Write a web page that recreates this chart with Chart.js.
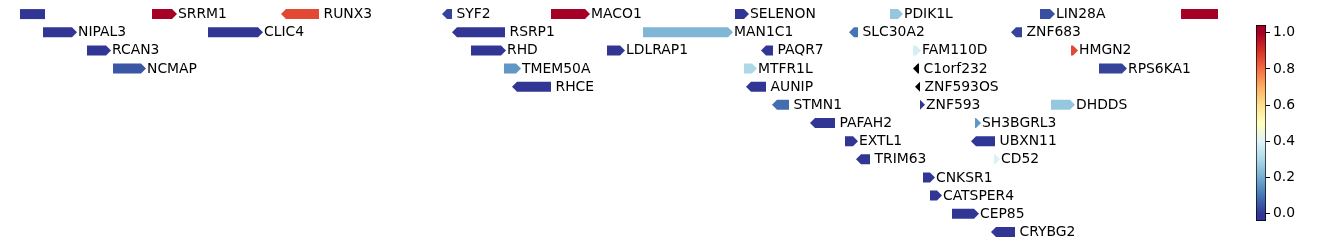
<!DOCTYPE html>
<html>
<head>
<meta charset="utf-8">
<script src="https://cdn.jsdelivr.net/npm/chart.js"></script>
<style>
    html, body { margin: 0; padding: 0; background: #fff; }
    #contenedor { position: relative; width: 1338px; height: 246px; }
    #pistas { position: absolute; left: 0; top: 0; }
    #barra { position: absolute; left: 1240px; top: 0; }
</style>
</head>
<body>
<div id="contenedor">
    <canvas id="pistas" width="1240" height="246"></canvas>
    <canvas id="barra" width="98" height="246"></canvas>
</div>
<script>
// Genes (nombre vacio = gen cortado en el borde, sin etiqueta)
const genes = ['', 'SRRM1', 'RUNX3', 'SYF2', 'MACO1', 'SELENON', 'PDIK1L', 'LIN28A', '',
    'NIPAL3', 'CLIC4', 'RSRP1', 'MAN1C1', 'SLC30A2', 'ZNF683',
    'RCAN3', 'RHD', 'LDLRAP1', 'PAQR7', 'FAM110D', 'HMGN2',
    'NCMAP', 'TMEM50A', 'MTFR1L', 'C1orf232', 'RPS6KA1',
    'RHCE', 'AUNIP', 'ZNF593OS',
    'STMN1', 'ZNF593', 'DHDDS',
    'PAFAH2', 'SH3BGRL3',
    'EXTL1', 'UBXN11',
    'TRIM63', 'CD52',
    'CNKSR1', 'CATSPER4', 'CEP85', 'CRYBG2'];
const inicio = [20, 152, 281, 442, 551, 735, 890, 1040, 1181,
    43, 208, 452, 643, 849, 1011,
    87, 471, 607, 761, 913, 1071,
    113, 504, 744, 913, 1099,
    512, 746, 915,
    772, 920, 1051,
    810, 975,
    845, 971,
    856, 994,
    923, 930, 952, 991];
const fin = [45, 177, 319, 452, 590, 749, 903, 1055, 1218,
    77, 263, 505, 733, 858, 1022,
    111, 506, 625, 773, 921, 1078,
    146, 521, 757, 919, 1127,
    551, 766, 920,
    789, 925, 1075,
    835, 981,
    858, 995,
    870, 1000,
    935, 942, 979, 1015];
// 1 = hebra +, -1 = hebra -, 0 = sin flecha
const hebra = [0, 1, -1, -1, 1, 1, 1, 1, 0,
    1, 1, -1, 1, -1, -1,
    1, 1, 1, -1, 1, 1,
    1, 1, 1, -1, 1,
    -1, -1, -1,
    -1, 1, 1,
    -1, 1,
    1, -1,
    -1, 1,
    1, 1, 1, -1];
const fila = [0, 0, 0, 0, 0, 0, 0, 0, 0,
    1, 1, 1, 1, 1, 1,
    2, 2, 2, 2, 2, 2,
    3, 3, 3, 3, 3,
    4, 4, 4,
    5, 5, 5,
    6, 6,
    7, 7,
    8, 8,
    9, 10, 11, 12];
// null = sin valor (negro)
const valor = [0.0, 1.0, 0.86, 0.02, 1.0, 0.0, 0.26, 0.04, 1.0,
    0.0, 0.0, 0.0, 0.22, 0.10, 0.02,
    0.0, 0.0, 0.0, 0.0, 0.38, 0.86,
    0.05, 0.16, 0.30, null, 0.02,
    0.0, 0.0, null,
    0.09, 0.0, 0.26,
    0.0, 0.16,
    0.0, 0.0,
    0.0, 0.39,
    0.0, 0.0, 0.0, 0.0];
const filas = ['f0', 'f1', 'f2', 'f3', 'f4', 'f5', 'f6', 'f7', 'f8', 'f9', 'f10', 'f11', 'f12'];

// Barra de color
const ticksBarra = [0.0, 0.2, 0.4, 0.6, 0.8, 1.0];
const limiteBarra = [-0.040, 1.043];

// RdYlBu invertido
const paleta = ['#313695', '#4575b4', '#74add1', '#abd9e9', '#e0f3f8', '#ffffbf',
    '#fee090', '#fdae61', '#f46d43', '#d73027', '#a50026'];

const fuente = '"DejaVu Sans", sans-serif';

function hexRgb(h) {
    return [parseInt(h.slice(1, 3), 16), parseInt(h.slice(3, 5), 16), parseInt(h.slice(5, 7), 16)];
}

function colorDe(v) {
    if (v === null) return '#000000';
    const t = Math.min(1, Math.max(0, v)) * (paleta.length - 1);
    const i = Math.min(paleta.length - 2, Math.floor(t));
    const f = t - i;
    const a = hexRgb(paleta[i]), b = hexRgb(paleta[i + 1]);
    const c = a.map((x, k) => Math.round(x + (b[k] - x) * f));
    return 'rgb(' + c.join(',') + ')';
}

// Dibuja cada gen como flecha (pentagono) a partir de la barra calculada por Chart.js
const flechas = {
    id: 'flechas',
    afterDatasetsDraw(chart) {
        const ctx = chart.ctx;
        const meta = chart.getDatasetMeta(0);
        ctx.save();
        meta.data.forEach((bar, i) => {
            const p = bar.getProps(['x', 'y', 'base', 'height'], true);
            const izq = Math.min(p.x, p.base), der = Math.max(p.x, p.base);
            const arriba = p.y - p.height / 2, abajo = p.y + p.height / 2;
            const punta = Math.min(5, der - izq);
            ctx.fillStyle = colorDe(valor[i]);
            ctx.beginPath();
            if (hebra[i] === 1) {
                ctx.moveTo(izq, arriba);
                ctx.lineTo(der - punta, arriba);
                ctx.lineTo(der, p.y);
                ctx.lineTo(der - punta, abajo);
                ctx.lineTo(izq, abajo);
            } else if (hebra[i] === -1) {
                ctx.moveTo(der, arriba);
                ctx.lineTo(izq + punta, arriba);
                ctx.lineTo(izq, p.y);
                ctx.lineTo(izq + punta, abajo);
                ctx.lineTo(der, abajo);
            } else {
                ctx.rect(izq, arriba, der - izq, abajo - arriba);
            }
            ctx.closePath();
            ctx.fill();

            if (genes[i]) {
                ctx.fillStyle = '#000';
                ctx.font = '13.9px ' + fuente;
                ctx.textBaseline = 'middle';
                ctx.textAlign = 'left';
                ctx.fillText(genes[i], der + (hebra[i] === -1 ? 4.5 : 1), p.y + 0.5);
            }
        });
        ctx.restore();
    }
};

function crearPistas() {
    new Chart(document.getElementById('pistas'), {
        type: 'bar',
        data: {
            labels: filas,
            datasets: [{
                data: genes.map((g, i) => ({ x: [inicio[i], fin[i]], y: filas[fila[i]] })),
                backgroundColor: 'rgba(0,0,0,0)',
                borderWidth: 0,
                barThickness: 10
            }]
        },
        options: {
            indexAxis: 'y',
            responsive: false,
            animation: false,
            layout: { padding: { top: 5, bottom: 5, left: 0, right: 0 } },
            plugins: { legend: { display: false }, tooltip: { enabled: false } },
            scales: {
                x: { type: 'linear', min: 0, max: 1240, display: false },
                y: { type: 'category', display: false }
            }
        },
        plugins: [flechas]
    });
}

function crearBarraColor() {
    new Chart(document.getElementById('barra'), {
        type: 'bar',
        data: {
            labels: [''],
            datasets: [{
                data: [limiteBarra],
                backgroundColor(c) {
                    const chart = c.chart;
                    if (!chart.chartArea) return '#fff';
                    const y = chart.scales.y;
                    const g = chart.ctx.createLinearGradient(0, y.getPixelForValue(0), 0, y.getPixelForValue(1));
                    paleta.forEach((col, k) => g.addColorStop(k / (paleta.length - 1), col));
                    return g;
                },
                borderColor: '#000',
                borderWidth: 1,
                borderSkipped: false,
                barPercentage: 1,
                categoryPercentage: 1
            }]
        },
        options: {
            responsive: false,
            animation: false,
            layout: { padding: { top: 25, bottom: 25, left: 16, right: 0 } },
            plugins: { legend: { display: false }, tooltip: { enabled: false } },
            scales: {
                x: { display: false },
                y: {
                    position: 'right',
                    min: limiteBarra[0],
                    max: limiteBarra[1],
                    afterBuildTicks(scale) {
                        scale.ticks = ticksBarra.map(v => ({ value: v }));
                    },
                    afterFit(scale) {
                        scale.width = 72;
                    },
                    border: { display: false },
                    grid: { drawOnChartArea: false, drawTicks: true, tickLength: 4, color: '#000', lineWidth: 1 },
                    ticks: {
                        padding: 3,
                        color: '#000',
                        font: { family: fuente, size: 13.9 },
                        callback: v => v.toFixed(1)
                    }
                }
            }
        }
    });
}

crearPistas();
crearBarraColor();
</script>
</body>
</html>
